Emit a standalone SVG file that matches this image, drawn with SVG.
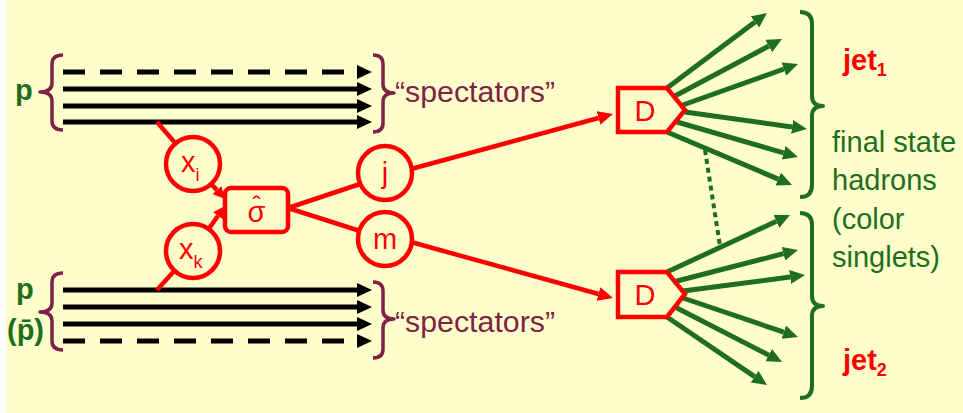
<svg xmlns="http://www.w3.org/2000/svg" width="963" height="413" viewBox="0 0 963 413">
<style>
.bk{stroke:#000;stroke-width:5;fill:none}
.bkd{stroke:#000;stroke-width:5;fill:none;stroke-dasharray:22 15}
.rd{stroke:#FF0000;stroke-width:4.5;fill:none}
.gr{stroke:#1E6E1E;stroke-width:5;fill:none}
.mb{stroke:#7E2347;stroke-width:3.5;fill:none;stroke-linejoin:round}
.gb{stroke:#1E6E1E;stroke-width:4;fill:none;stroke-linejoin:round}
.rt{font-family:"Liberation Sans",Arial,sans-serif;fill:#FF0000}
.gt{font-family:"Liberation Sans",Arial,sans-serif;fill:#1E6E1E;font-size:29px}
.mt{font-family:"Liberation Sans",Arial,sans-serif;fill:#7E2347;font-size:29px}
</style>
<defs>
<marker id="ab" markerUnits="userSpaceOnUse" viewBox="0 -7 15 14" refX="0" refY="0" markerWidth="15" markerHeight="14" orient="auto"><path d="M0,-7 L15,0 L0,7 Z" fill="#000"/></marker>
<marker id="ag" markerUnits="userSpaceOnUse" viewBox="0 -7 15 14" refX="0" refY="0" markerWidth="15" markerHeight="14" orient="auto"><path d="M0,-7 L15,0 L0,7 Z" fill="#1E6E1E"/></marker>
<marker id="ar" markerUnits="userSpaceOnUse" viewBox="0 -7 15 14" refX="0" refY="0" markerWidth="15" markerHeight="14" orient="auto"><path d="M0,-7 L15,0 L0,7 Z" fill="#FF0000"/></marker>
<marker id="ars" markerUnits="userSpaceOnUse" viewBox="0 -6 12 12" refX="0" refY="0" markerWidth="12" markerHeight="12" orient="auto"><path d="M0,-6 L12,0 L0,6 Z" fill="#FF0000"/></marker>
</defs>
<rect x="6" y="0" width="957" height="413" fill="#FFFFCC"/>

<g id="connectors">
<line class="bkd" x1="63" y1="72" x2="357" y2="72" marker-end="url(#ab)"/>
<line class="bk" x1="63" y1="89" x2="357" y2="89" marker-end="url(#ab)"/>
<line class="bk" x1="63" y1="106" x2="357" y2="106" marker-end="url(#ab)"/>
<line class="bk" x1="63" y1="122" x2="357" y2="122" marker-end="url(#ab)"/>
<line class="bk" x1="63" y1="290" x2="357" y2="290" marker-end="url(#ab)"/>
<line class="bk" x1="63" y1="307" x2="357" y2="307" marker-end="url(#ab)"/>
<line class="bk" x1="63" y1="324" x2="357" y2="324" marker-end="url(#ab)"/>
<line class="bkd" x1="63" y1="341" x2="357" y2="341" marker-end="url(#ab)"/>
<line class="rd" x1="157" y1="122" x2="176" y2="144"/>
<line class="rd" x1="157" y1="290" x2="175" y2="270"/>
<line class="rd" x1="211.9" y1="184.7" x2="216.9" y2="190.1" marker-end="url(#ars)"/>
<line class="rd" x1="209.2" y1="228.2" x2="218" y2="215.8" marker-end="url(#ars)"/>
<line class="rd" x1="288" y1="208" x2="360" y2="184"/>
<line class="rd" x1="288" y1="208" x2="360" y2="231"/>
<line class="rd" x1="411" y1="169" x2="598.5" y2="118" marker-end="url(#ar)"/>
<line class="rd" x1="411" y1="242" x2="598.5" y2="294" marker-end="url(#ar)"/>
<line class="gr" x1="667" y1="88" x2="755" y2="22" marker-end="url(#ag)"/>
<line class="gr" x1="673" y1="97" x2="768.8" y2="46" marker-end="url(#ag)"/>
<line class="gr" x1="680" y1="106" x2="783.9" y2="69" marker-end="url(#ag)"/>
<line class="gr" x1="685" y1="112" x2="792.1" y2="126.9" marker-end="url(#ag)"/>
<line class="gr" x1="677" y1="122" x2="783.6" y2="152.8" marker-end="url(#ag)"/>
<line class="gr" x1="667" y1="132" x2="778.2" y2="179.1" marker-end="url(#ag)"/>
<line class="gr" x1="667" y1="272" x2="776.4" y2="221.3" marker-end="url(#ag)"/>
<line class="gr" x1="673" y1="282" x2="783.5" y2="253.7" marker-end="url(#ag)"/>
<line class="gr" x1="683" y1="291" x2="790.1" y2="277" marker-end="url(#ag)"/>
<line class="gr" x1="683" y1="298" x2="783.8" y2="332.2" marker-end="url(#ag)"/>
<line class="gr" x1="675" y1="307" x2="768.7" y2="355.1" marker-end="url(#ag)"/>
<line class="gr" x1="667" y1="317" x2="754.6" y2="376.6" marker-end="url(#ag)"/>
<line x1="705" y1="150" x2="720" y2="246" stroke="#1E6E1E" stroke-width="4" stroke-dasharray="5 4"/>
</g>

<g id="braces">
<path class="mb" d="M63,55 Q52,55 52,64 L52,83 Q52,92 40,92 Q52,92 52,101 L52,121 Q52,130 63,130"/>
<path class="mb" d="M63,273 Q52,273 52,282 L52,303 Q52,312 40,312 Q52,312 52,321 L52,341 Q52,350 63,350"/>
<path class="mb" d="M373,55 Q383,55 383,64 L383,84 Q383,93 394,93 Q383,93 383,102 L383,123 Q383,132 373,132"/>
<path class="mb" d="M373,282 Q383,282 383,291 L383,310 Q383,319 394,319 Q383,319 383,328 L383,349 Q383,358 373,358"/>
<path class="gb" d="M800,12 Q812,12 812,24 L812,96 Q812,106 823,106 Q812,106 812,116 L812,185 Q812,197 800,197"/>
<path class="gb" d="M800,213 Q812,213 812,225 L812,296 Q812,306 823,306 Q812,306 812,316 L812,386 Q812,398 800,398"/>
</g>

<g id="labels">
<text class="gt" x="15" y="100" font-weight="bold" font-size="30">p</text>
<text class="gt" x="16" y="299" font-weight="bold" font-size="30">p</text>
<text class="gt" x="7" y="340" font-weight="bold" font-size="30">(p̄)</text>
<text class="mt" x="395" y="102" textLength="160" lengthAdjust="spacingAndGlyphs">“spectators”</text>
<text class="mt" x="395" y="332" textLength="160" lengthAdjust="spacingAndGlyphs">“spectators”</text>
<text class="rt" x="843" y="70" font-size="29" font-weight="bold">jet<tspan font-size="18" dy="6">1</tspan></text>
<text class="rt" x="843" y="370" font-size="29" font-weight="bold">jet<tspan font-size="18" dy="6">2</tspan></text>
<text class="gt" x="832" y="152">final state</text>
<text class="gt" x="832" y="190">hadrons</text>
<text class="gt" x="832" y="229">(color</text>
<text class="gt" x="832" y="267">singlets)</text>
</g>

<g id="node-xi">
<circle cx="193" cy="164" r="27" class="rd"/>
<text class="rt" x="181" y="172" font-size="29">x<tspan font-size="18" dy="9">i</tspan></text>
</g>
<g id="node-xk">
<circle cx="193" cy="251" r="27" class="rd"/>
<text class="rt" x="179" y="259" font-size="29">x<tspan font-size="18" dy="9">k</tspan></text>
</g>
<g id="node-sigma">
<rect x="225" y="188" width="63" height="44" rx="6" class="rd"/>
<text class="rt" x="256.5" y="222" font-size="29" text-anchor="middle">σ<tspan x="256.5" dy="-8" font-size="26">ˆ</tspan></text>
</g>
<g id="node-j">
<circle cx="385" cy="173" r="27" class="rd"/>
<text class="rt" x="385" y="183" font-size="29" text-anchor="middle">j</text>
</g>
<g id="node-m">
<circle cx="385" cy="239" r="27" class="rd"/>
<text class="rt" x="385" y="249" font-size="29" text-anchor="middle">m</text>
</g>
<g id="node-D1">
<path d="M618,88 L667,88 L685,110 L667,132 L618,132 Z" class="rd" fill="#FFFFCC"/>
<text class="rt" x="645" y="121" font-size="29" text-anchor="middle">D</text>
</g>
<g id="node-D2">
<path d="M618,272 L667,272 L685,294 L667,317 L618,317 Z" class="rd" fill="#FFFFCC"/>
<text class="rt" x="645" y="305" font-size="29" text-anchor="middle">D</text>
</g>
</svg>
